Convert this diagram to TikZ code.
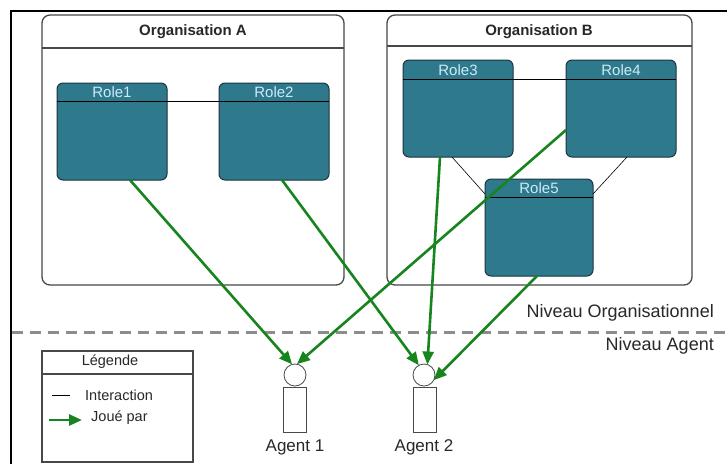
\documentclass[tikz,border=0pt]{standalone}
\usepackage{fontspec}
\setmainfont{Liberation Sans}
\usetikzlibrary{arrows.meta,calc}
\definecolor{roleteal}{RGB}{47,121,141}
\definecolor{roleedge}{RGB}{28,52,62}
\definecolor{rolelabel}{RGB}{205,235,245}
\definecolor{playgreen}{RGB}{24,132,30}
\definecolor{orgedge}{RGB}{72,72,72}
\definecolor{dashgray}{RGB}{140,140,140}
\definecolor{txt}{RGB}{40,40,40}
\begin{document}
\begin{tikzpicture}[x=1pt,y=-1pt,
  org/.style={draw=orgedge,line width=1.3pt,rounded corners=8pt,minimum height=270pt,anchor=north west,inner sep=0pt,outer sep=0pt},
  orgtitle/.style={font=\bfseries\fontsize{15}{18}\selectfont,text=txt,inner sep=0pt},
  rolebox/.style={draw=roleedge,fill=roleteal,line width=1pt,rounded corners=6pt,minimum height=97pt,anchor=north west,inner sep=0pt,outer sep=0pt},
  rolelab/.style={font=\fontsize{15}{18}\selectfont,text=rolelabel,inner sep=0pt},
  interact/.style={draw=black,line width=0.9pt},
  played/.style={draw=playgreen,line width=2.6pt,-{Triangle[length=13pt,width=11pt]}},
  head/.style={circle,draw=orgedge,line width=0.8pt,fill=white,minimum size=22pt,inner sep=0pt,outer sep=0pt},
  body/.style={rectangle,draw=orgedge,line width=0.8pt,fill=white,minimum width=23pt,minimum height=45pt,anchor=north,inner sep=0pt,outer sep=0pt},
  agentlab/.style={font=\fontsize{17}{20}\selectfont,text=txt,inner sep=0pt},
  levellab/.style={font=\fontsize{18}{21}\selectfont,text=txt,inner sep=0pt,anchor=east},
  leglab/.style={font=\fontsize{14.5}{17}\selectfont,text=txt,inner sep=0pt}
]
\useasboundingbox (0,0) rectangle (727,464);
\fill[white] (0,0) rectangle (727,464);
% frame
\draw[line width=2pt] (727,11) -- (11,11) -- (11,464);

% organisations
\node[org,minimum width=302pt] (orgA) at (42,15) {};
\node[org,minimum width=305pt] (orgB) at (387,15) {};
\draw[orgedge,line width=1.3pt] ([yshift=-33pt]orgA.north west) -- ([yshift=-33pt]orgA.north east);
\draw[orgedge,line width=1.3pt] ([yshift=-31pt]orgB.north west) -- ([yshift=-31pt]orgB.north east);
\node[orgtitle] (tA) at (193,32) {Organisation A};
\node[orgtitle] (tB) at (539,32) {Organisation B};

% roles
\node[rolebox,minimum width=110pt] (role1) at (57,83) {};
\node[rolebox,minimum width=110pt] (role2) at (219,83) {};
\node[rolebox,minimum width=110pt] (role3) at (403,60) {};
\node[rolebox,minimum width=110pt] (role4) at (566,60) {};
\node[rolebox,minimum width=108pt] (role5) at (485,179) {};
\node[rolelab] (l1) at ([yshift=-9pt]role1.north) {Role1};
\node[rolelab] (l2) at ([yshift=-9pt]role2.north) {Role2};
\node[rolelab] (l3) at ([yshift=-10pt]role3.north) {Role3};
\node[rolelab] (l4) at ([yshift=-10pt]role4.north) {Role4};
\node[rolelab] (l5) at ([yshift=-9pt]role5.north) {Role5};

% interactions (header lines + links)
\draw[interact] ([yshift=-18pt]role1.north west) -- ([yshift=-18pt]role2.north east);
\draw[interact] ([yshift=-19pt]role3.north west) -- ([yshift=-19pt]role4.north east);
\draw[interact] ([yshift=-18pt]role5.north west) -- ([yshift=-18pt]role5.north east);
\draw[interact,line width=0.6pt] ([xshift=-6pt]role3.south) -- ([yshift=-15pt]role5.north west);
\draw[interact,line width=0.6pt] ([xshift=6pt]role4.south) -- ([yshift=-15pt]role5.north east);

% dashed level separator
\coordinate (dl) at (12,332);
\coordinate (dr) at (727,332);
\draw[dashgray,line width=3pt,dash pattern=on 11pt off 7pt] (dl) -- (dr);
\node[levellab] (lvo) at (714,313) {Niveau Organisationnel};
\node[levellab] (lva) at (714,346) {Niveau Agent};

% agents
\node[body] (a1b) at (294.5,387) {};
\node[head] (a1h) at (295,375) {};
\node[agentlab] (a1t) at (295,447) {Agent 1};
\node[body] (a2b) at (424.5,387) {};
\node[head] (a2h) at (424,375) {};
\node[agentlab] (a2t) at (424,447) {Agent 2};

% played-by arrows
\draw[played] ([xshift=18pt]role1.south) -- (a1h.105);
\draw[played] ([yshift=-21.5pt]role4.west) -- (a1h.80);
\draw[played] ([xshift=8pt]role2.south) -- (a2h.118);
\draw[played] ([xshift=-18pt]role3.south) -- (a2h.72);
\draw[played] ([xshift=-2pt]role5.south) -- (a2h.-28);

% legend
\node[draw=orgedge,line width=1.2pt,minimum width=151pt,minimum height=111pt,anchor=north west,inner sep=0pt,outer sep=0pt] (leg) at (42,351) {};
\draw[orgedge,line width=1.2pt] ([yshift=-23pt]leg.north west) -- ([yshift=-23pt]leg.north east);
\node[leglab] (legt) at (110,362) {Légende};
\coordinate (li1) at (52,395);
\coordinate (li2) at (70,395);
\draw[interact] (li1) -- (li2);
\node[leglab,anchor=west] (lit) at (85,395) {Interaction};
\coordinate (lj1) at (49,420);
\coordinate (lj2) at (82,420);
\draw[played] (lj1) -- (lj2);
\node[leglab,anchor=west] (ljt) at (91,418) {Joué par};
\end{tikzpicture}
\end{document}
